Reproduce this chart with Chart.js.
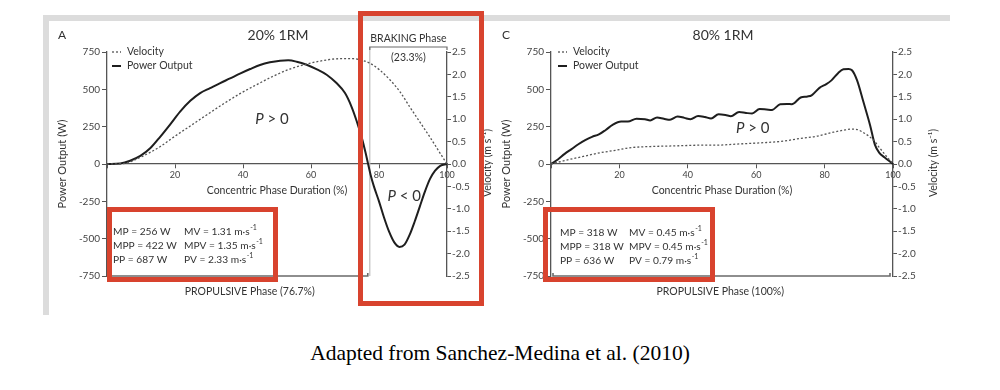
<!DOCTYPE html>
<html>
<head>
<meta charset="utf-8">
<script src="https://cdn.jsdelivr.net/npm/chart.js@4.4.1/dist/chart.umd.min.js"></script>
<style>
  html, body { margin:0; padding:0; background:#fff; width:1000px; height:390px; overflow:hidden; }
  .frame { position:absolute; background:#dcdcdc; }
  .redbox { position:absolute; box-sizing:border-box; border:5px solid #d8432e; z-index:5; }
  canvas { position:absolute; top:0; z-index:2; }
  #caption { position:absolute; left:0; top:340px; width:1000px; text-align:center;
             font-family:'Liberation Serif','Times New Roman',serif; font-size:21.5px; line-height:26px; color:#000; }
</style>
</head>
<body>
<div class="frame" style="left:43px;top:15px;width:907px;height:6px;"></div>
<div class="frame" style="left:43px;top:15px;width:6px;height:300px;"></div>
<canvas id="chartA" width="500" height="320" style="left:0;width:500px;height:320px;"></canvas>
<canvas id="chartC" width="510" height="320" style="left:490px;width:510px;height:320px;"></canvas>
<div class="redbox" style="left:107px;top:207px;width:171px;height:75px;"></div>
<div class="redbox" style="left:358px;top:11px;width:126px;height:295px;"></div>
<div class="redbox" style="left:543px;top:207px;width:172px;height:75px;"></div>
<div id="caption">Adapted from Sanchez-Medina et al. (2010)</div>
<script>
// ---------------- DATA ----------------
// Panel A: 20% 1RM
const timeA_power = [0,3.9,6.8,9.8,12.7,15.7,18.6,21.5,24.5,27.4,30.3,33.3,36.2,39.1,42.1,45,47.9,50.9,53.3,55.8,58.7,61.6,64.6,67.5,70,71.9,73.4,75,76,76.8,77.5,78.5,80,81.5,83,84.5,86,87.5,89,90.5,92,93.5,95,96.5,98,100];
const powerA      = [0,4,22,54,105,184,266,351,423,475,508,542,573,605,636,663,681,692,694,685,665,636,598,542,475,385,290,170,80,0,-70,-150,-250,-360,-455,-525,-555,-540,-475,-385,-285,-185,-100,-45,-12,0];
const timeA_vel   = [0,4.9,9.8,12.7,15.7,19.6,24.5,29.4,34.2,39.1,44,48.9,53.8,58.7,63.6,68.5,72.4,75.3,77.3,80.2,83.2,86.1,89,91.9,94.9,97.4,100];
const velocityA   = [0,0.01,0.15,0.26,0.39,0.60,0.85,1.10,1.34,1.57,1.77,1.96,2.12,2.23,2.31,2.35,2.35,2.31,2.25,2.10,1.88,1.62,1.28,0.95,0.61,0.31,0];

// Panel C: 80% 1RM
const timeC_power = [0,2,4,6,8,10,12,14,16,18,20.5,22.5,25,27.5,29,31,33,34.8,37,39,40.8,43,45,46.8,49,51,52.6,55,57,58.8,61,63,64.6,67,69,70.4,73,75,76.2,78.5,80.5,82,84,85.5,87,88,89.5,91.3,93.3,94.7,96,97.5,99,100];
const powerC      = [0,30,68,100,132,160,182,198,228,262,284,284,303,300,292,312,303,296,318,309,300,322,315,305,333,328,320,348,342,338,368,365,362,400,402,400,445,452,460,510,535,560,610,634,636,628,560,420,260,130,75,45,18,0];
const timeC_vel   = [0,3.6,9.5,14.3,19.2,22,24,29,34,38.7,43.5,48.4,53.3,58.2,63.1,67.9,72.8,77.7,82.6,86,88,89.5,91.8,94.2,96.2,98.2,100];
const velocityC   = [0,0.07,0.17,0.25,0.31,0.35,0.37,0.39,0.40,0.41,0.42,0.42,0.44,0.46,0.48,0.51,0.57,0.62,0.71,0.76,0.78,0.77,0.68,0.54,0.35,0.16,0];

// Summary statistics
const powerStatNames = ['MP','MPP','PP'];
const velStatNames   = ['MV','MPV','PV'];
const powerStatsA = [256,422,687];
const velStatsA   = [1.31,1.35,2.33];
const powerStatsC = [318,318,636];
const velStatsC   = [0.45,0.45,0.79];

// Phase split (% of concentric phase)
const propulsiveA = 76.7;
const propulsiveC = 100;

// Axis ranges / tick steps
const powerRange = [-750, 750];  const powerStep = 250;
const velRange   = [-2.5, 2.5];  const velStep   = 0.5;
const durRange   = [0, 100];     const durStep   = 20;

// ---------------- DRAWING ----------------
const FONT = "Lato, 'Open Sans', 'DejaVu Sans', sans-serif";
const TXT = '#333';
const AX = '#555';
const zip = (xs, ys) => xs.map((x, i) => ({x, y: ys[i]}));

const decor = {
  id: 'decor',
  beforeDatasetsDraw(chart, args, o) {
    const {ctx, chartArea: a, scales: {x}} = chart;
    ctx.save();
    ctx.strokeStyle = '#6a6a6a';
    ctx.lineWidth = 1.6;
    const yb = a.bottom;
    const x0 = a.left + 2;
    const x1 = o.propEnd >= 100 ? a.right - 3 : x.getPixelForValue(o.propEnd);
    ctx.beginPath();
    if (o.propEnd >= 100) { ctx.moveTo(x0, yb - 3); }
    else { ctx.moveTo(x0, yb); }
    ctx.lineTo(x0, yb); ctx.lineTo(x1, yb); ctx.lineTo(x1, yb - 3);
    ctx.stroke();
    if (o.propEnd < 100) {
      const xs = x.getPixelForValue(o.propEnd) + 2;
      ctx.strokeStyle = '#bdbdbd'; ctx.lineWidth = 1.2;
      ctx.beginPath(); ctx.moveTo(xs, a.top - 5); ctx.lineTo(xs, yb); ctx.stroke();
      ctx.strokeStyle = '#6a6a6a';
      ctx.beginPath();
      ctx.moveTo(xs, a.top - 2); ctx.lineTo(xs, a.top - 5); ctx.lineTo(a.right, a.top - 5); ctx.lineTo(a.right, a.top - 2);
      ctx.stroke();
    }
    ctx.restore();
  },
  afterDatasetsDraw(chart, args, o) {
    const {ctx, chartArea: a, scales: {x, y}} = chart;
    ctx.save();
    ctx.fillStyle = TXT;
    ctx.textBaseline = 'middle';
    // panel letter + title
    ctx.font = `12px ${FONT}`;
    ctx.textAlign = 'left';
    ctx.fillText(o.letter, a.left - 49, 35);
    ctx.font = `14px ${FONT}`;
    ctx.textAlign = 'center';
    ctx.fillText(o.title, (a.left + a.right) / 2 + 1, 35);
    // legend
    const ds = chart.data.datasets;
    ctx.textAlign = 'left';
    ctx.font = `10.5px ${FONT}`;
    ds.forEach((d, i) => {
      const yy = a.top + i * 14;
      ctx.save();
      ctx.strokeStyle = d.borderColor;
      ctx.lineWidth = d.borderDash ? 1.3 : 2;
      ctx.setLineDash(d.borderDash || []);
      ctx.beginPath(); ctx.moveTo(a.left + o.legendDx, yy); ctx.lineTo(a.left + o.legendDx + 9, yy); ctx.stroke();
      ctx.restore();
      ctx.fillText(d.label, a.left + o.legendDx + 15, yy);
    });
    // P labels
    const drawP = (pos, sign) => {
      const px = x.getPixelForValue(pos[0]), py = y.getPixelForValue(pos[1]);
      ctx.font = `italic 15px ${FONT}`;
      const wP = ctx.measureText('P').width;
      ctx.font = `15px ${FONT}`;
      const rest = ' ' + sign + ' 0';
      const wR = ctx.measureText(rest).width;
      const sx = px - (wP + wR) / 2;
      ctx.textAlign = 'left';
      ctx.font = `italic 15px ${FONT}`;
      ctx.fillText('P', sx, py);
      ctx.font = `15px ${FONT}`;
      ctx.fillText(rest, sx + wP, py);
    };
    drawP(o.posLabel, '>');
    if (o.negLabel) drawP(o.negLabel, '<');
    // phase labels
    ctx.textAlign = 'center';
    ctx.font = `10.5px ${FONT}`;
    ctx.fillText(`PROPULSIVE Phase (${o.propEnd}%)`, x.getPixelForValue(o.propLabelX), a.bottom + 16);
    if (o.propEnd < 100) {
      const xs = x.getPixelForValue(o.propEnd) + 2;
      const mid = (xs + a.right) / 2;
      ctx.fillText('BRAKING Phase', mid, a.top - 13);
      ctx.fillText(`(${(100 - o.propEnd).toFixed(1)}%)`, mid, a.top + 6);
    }
    // stats
    ctx.textAlign = 'left';
    o.pStats.forEach((v, i) => {
      const yy = a.bottom + o.rowDy[i];
      ctx.font = `10.2px ${FONT}`;
      ctx.fillText(`${powerStatNames[i]} = ${v} W`, a.left + o.col1, yy);
      const t = `${velStatNames[i]} = ${o.vStats[i].toFixed(2)} m\u00B7s`;
      ctx.fillText(t, a.left + o.col2, yy);
      const w = ctx.measureText(t).width;
      ctx.font = `7px ${FONT}`;
      ctx.fillText('-1', a.left + o.col2 + w + 0.5, yy - 4);
    });
    // right axis title (reads bottom-to-top)
    ctx.save();
    ctx.translate(a.right + 41, (a.top + a.bottom) / 2 - 1);
    ctx.rotate(-Math.PI / 2);
    ctx.textAlign = 'center';
    ctx.font = `10.5px ${FONT}`;
    ctx.fillText('Velocity (m s\u207B\u00B9)', 0, 0);
    ctx.restore();
    ctx.restore();
  }
};

function makeChart(id, tp, p, tv, v, pad, decorOpts) {
  return new Chart(document.getElementById(id), {
    type: 'line',
    data: {
      datasets: [
        { label: 'Velocity', data: zip(tv, v), yAxisID: 'y1', borderColor: '#555', borderWidth: 1.3,
          borderDash: [2, 2], pointRadius: 0, cubicInterpolationMode: 'monotone', fill: false },
        { label: 'Power Output', data: zip(tp, p), yAxisID: 'y', borderColor: '#1e1e1e', borderWidth: 2,
          pointRadius: 0, cubicInterpolationMode: 'monotone', fill: false }
      ]
    },
    options: {
      responsive: false, animation: false, devicePixelRatio: 1,
      layout: { padding: pad },
      plugins: { legend: { display: false }, tooltip: { enabled: false }, decor: decorOpts },
      scales: {
        x: {
          type: 'linear', position: { y: 0 }, min: durRange[0], max: durRange[1],
          ticks: { stepSize: durStep, autoSkip: false, maxRotation: 0, padding: 2, color: '#444',
                   font: { family: FONT, size: 9 }, callback: (val) => val === 0 ? '' : val },
          grid: { drawOnChartArea: false, drawTicks: true, tickLength: 4, color: AX },
          border: { display: true, color: AX, width: 1.3 },
          title: { display: true, text: 'Concentric Phase Duration (%)', color: TXT,
                   font: { family: FONT, size: 10.5 }, padding: { top: 2, bottom: 0 } }
        },
        y: {
          position: 'left', min: powerRange[0], max: powerRange[1],
          ticks: { stepSize: powerStep, padding: 2, color: '#444', font: { family: FONT, size: 10 } },
          grid: { drawOnChartArea: false, tickLength: 5, color: AX },
          border: { display: true, color: AX, width: 1.3 },
          title: { display: true, text: 'Power Output (W)', color: TXT,
                   font: { family: FONT, size: 11 }, padding: { top: 6, bottom: 6 } },
          afterFit(s) { s.width = 57; }
        },
        y1: {
          position: 'right', min: velRange[0], max: velRange[1],
          ticks: { stepSize: velStep, padding: 1, color: '#444', font: { family: FONT, size: 10 },
                   callback: (val) => Number(val).toFixed(1) },
          grid: { drawOnChartArea: false, tickLength: 4, color: AX },
          border: { display: true, color: AX, width: 1.3 },
          afterFit(s) { s.width = 30; }
        }
      }
    },
    plugins: [decor]
  });
}

makeChart('chartA', timeA_power, powerA, timeA_vel, velocityA,
  { left: 50, right: 23, top: 52, bottom: 44 },
  { letter: 'A', title: '20% 1RM', legendDx: 5, posLabel: [48.5, 300], negLabel: [87.4, -214],
    propEnd: propulsiveA, propLabelX: 42, pStats: powerStatsA, vStats: velStatsA,
    col1: 6, col2: 77, rowDy: [-44, -30, -16] });

makeChart('chartC', timeC_power, powerC, timeC_vel, velocityC,
  { left: 4, right: 77, top: 52, bottom: 44 },
  { letter: 'C', title: '80% 1RM', legendDx: 7, posLabel: [59, 241], negLabel: null,
    propEnd: propulsiveC, propLabelX: 49.5, pStats: powerStatsC, vStats: velStatsC,
    col1: 9, col2: 78, rowDy: [-43, -29, -15] });
</script>
</body>
</html>
